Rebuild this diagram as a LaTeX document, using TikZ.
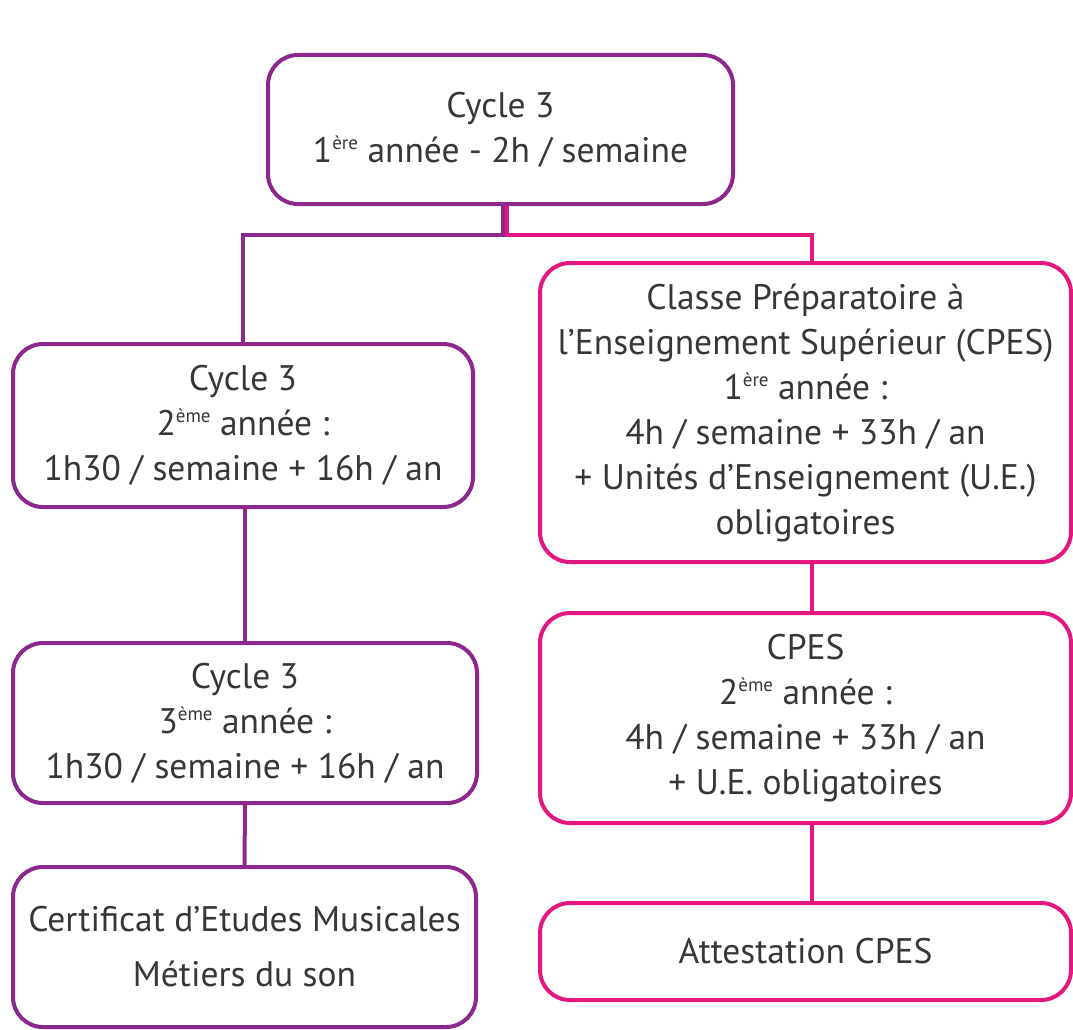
\documentclass[tikz,border=0pt]{standalone}
\usepackage{fontspec}
\setmainfont{PT Sans}
\definecolor{purp}{RGB}{140,40,140}
\definecolor{pinkc}{RGB}{226,24,128}
\definecolor{txt}{RGB}{55,55,55}
\newcommand\sups[1]{\raisebox{0.72ex}{\fontsize{19}{19}\selectfont #1}}
\tikzset{
  box/.style={draw, line width=4pt, rounded corners=30pt, fill=white, align=center,
    text=txt, font=\fontsize{35.5}{45}\selectfont, inner sep=0pt, anchor=center},
  pbox/.style={box, draw=purp},
  kbox/.style={box, draw=pinkc},
  pline/.style={draw=purp, line width=4pt},
  kline/.style={draw=pinkc, line width=4pt},
}
\begin{document}
\begin{tikzpicture}[x=1pt,y=-1pt]
\useasboundingbox[fill=white] (0,0) rectangle (1073,1030);
\node[pbox, minimum width=465pt, minimum height=149pt] (top) at (500.5,129.5)
  {Cycle 3\\1\sups{ère} année - 2h / semaine};
\node[pbox, minimum width=460pt, minimum height=163pt] (L2) at (243,425.5)
  {Cycle 3\\2\sups{ème} année :\\1h30 / semaine + 16h / an};
\node[pbox, minimum width=464pt, minimum height=160pt] (L3) at (245,723)
  {Cycle 3\\3\sups{ème} année :\\1h30 / semaine + 16h / an};
\node[pbox, minimum width=463pt, minimum height=160pt, font=\fontsize{35.5}{55}\selectfont] (L4) at (244.5,947)
  {Certificat d’Etudes Musicales\\Métiers du son};
\node[kbox, minimum width=531pt, minimum height=299pt] (R1) at (805.5,412.5)
  {Classe Préparatoire à\\l’Enseignement Supérieur (CPES)\\1\sups{ère} année :\\4h / semaine + 33h / an\\+ Unités d’Enseignement (U.E.)\\obligatoires};
\node[kbox, minimum width=531pt, minimum height=210pt] (R2) at (805.5,718)
  {CPES\\2\sups{ème} année :\\4h / semaine + 33h / an\\+ U.E. obligatoires};
\node[kbox, minimum width=531pt, minimum height=97pt] (R3) at (805.5,951.5)
  {Attestation CPES};
% connectors
\coordinate (ps) at ([xshift=2.5pt]top.south);
\coordinate (ks) at ([xshift=6.5pt]top.south);
\coordinate (kn) at ([xshift=6.5pt]R1.north);
\draw[pline] (ps) -- ++(0,29) -| (L2.north);
\draw[kline] (ks) -- ++(0,29) -| (kn);
\draw[pline] (L3.north |- L2.south) -- (L3.north);
\draw[pline] (L3.south) -- (L4.north);
\draw[kline] ([xshift=6.5pt]R1.south) -- ([xshift=6.5pt]R2.north);
\draw[kline] ([xshift=6.5pt]R2.south) -- ([xshift=6.5pt]R3.north);
\end{tikzpicture}
\end{document}
